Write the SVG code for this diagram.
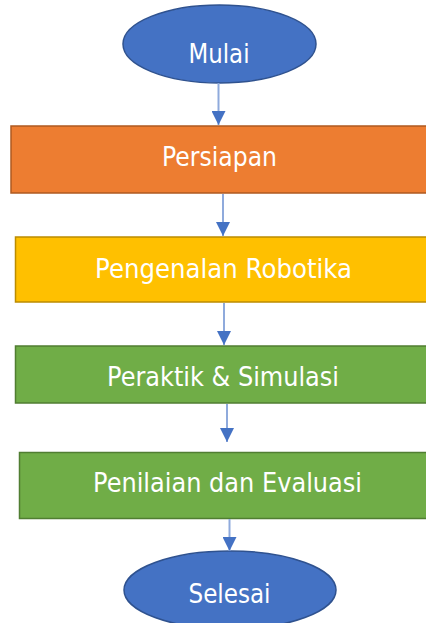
<svg xmlns="http://www.w3.org/2000/svg" width="426" height="623" viewBox="0 0 426 623">
<style>
.t{font-family:"DejaVu Sans","Liberation Sans",sans-serif;font-size:26px;fill:#fff;text-anchor:middle}
.con line{stroke:#8FAADC;stroke-width:2}
</style>
<defs>
<marker id="ah" markerWidth="14" markerHeight="14" refX="14" refY="7" orient="auto" markerUnits="userSpaceOnUse" viewBox="0 0 14 14">
<path d="M0,0 L14,7 L0,14 Z" fill="#4472C4"/>
</marker>
</defs>
<rect width="426" height="623" fill="#fff"/>
<g id="mulai">
<ellipse cx="219.5" cy="44" rx="96.5" ry="39" fill="#4472C4" stroke="#2F528F" stroke-width="1.5"/>
<text class="t" x="219" y="63" textLength="61" lengthAdjust="spacingAndGlyphs">Mulai</text>
</g>
<g id="persiapan">
<rect x="11" y="126" width="416" height="67" fill="#ED7D31" stroke="#AE5A21" stroke-width="1.5"/>
<text class="t" x="219.5" y="166" textLength="115" lengthAdjust="spacingAndGlyphs">Persiapan</text>
</g>
<g id="pengenalan">
<rect x="15.5" y="237" width="412" height="65" fill="#FFC000" stroke="#BC8C00" stroke-width="1.5"/>
<text class="t" x="223.5" y="278" textLength="257" lengthAdjust="spacingAndGlyphs">Pengenalan Robotika</text>
</g>
<g id="peraktik">
<rect x="15.5" y="346" width="412" height="57" fill="#70AD47" stroke="#507E32" stroke-width="1.5"/>
<text class="t" x="223" y="386" textLength="232" lengthAdjust="spacingAndGlyphs">Peraktik &amp; Simulasi</text>
</g>
<g id="penilaian">
<rect x="19.5" y="452.5" width="408" height="66" fill="#70AD47" stroke="#507E32" stroke-width="1.5"/>
<text class="t" x="227.5" y="492" textLength="269" lengthAdjust="spacingAndGlyphs">Penilaian dan Evaluasi</text>
</g>
<g id="selesai">
<ellipse cx="230" cy="590" rx="106" ry="39" fill="#4472C4" stroke="#2F528F" stroke-width="1.5"/>
<text class="t" x="229.5" y="603" textLength="82" lengthAdjust="spacingAndGlyphs">Selesai</text>
</g>
<g class="con" id="connectors">
<line x1="218.5" y1="83" x2="218.5" y2="125" marker-end="url(#ah)"/>
<line x1="223" y1="194" x2="223" y2="236" marker-end="url(#ah)"/>
<line x1="224" y1="303" x2="224" y2="345" marker-end="url(#ah)"/>
<line x1="227" y1="404" x2="227" y2="442" marker-end="url(#ah)"/>
<line x1="229.5" y1="519" x2="229.5" y2="551" marker-end="url(#ah)"/>
</g>
</svg>
